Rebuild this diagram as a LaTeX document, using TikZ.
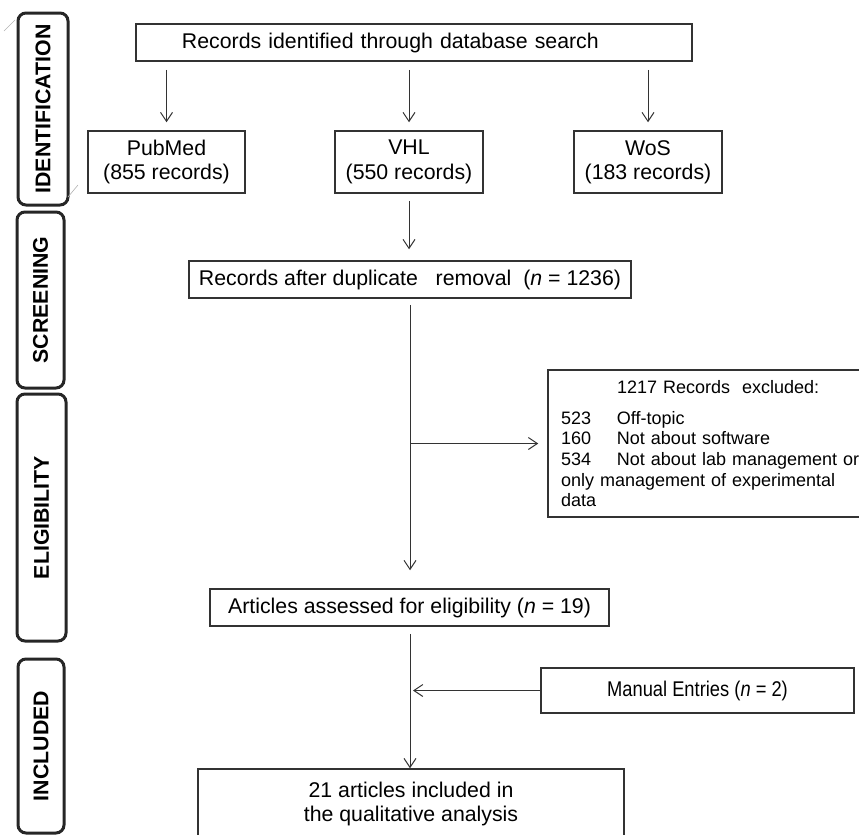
\documentclass[tikz,border=0pt]{standalone}
\usepackage{fontspec}
\setmainfont{Liberation Sans}
\newfontfamily\narrowfont{Liberation Sans}[FakeStretch=0.86]
\usepackage{tikz}
\usetikzlibrary{positioning,arrows.meta}
\definecolor{boxline}{HTML}{333333}

\begin{document}
\begin{tikzpicture}[x=0.5pt,y=-0.5pt,
font=\fontsize{10.65}{12.2}\selectfont,
box/.style={draw=boxline,line width=0.75pt,rectangle,inner sep=0pt,align=center},
phase/.style={draw=black!85,line width=1.5pt,rounded corners=4pt,rotate=90,inner sep=0pt,
    font=\fontsize{10.65}{12.2}\selectfont\bfseries},
flow/.style={draw=boxline,line width=0.5pt,->},
>={Straight Barb[length=4.5pt,width=6pt]}]
\useasboundingbox (0,0) rectangle (859,835);

\node (ident) [phase,minimum width=96pt,minimum height=25pt] at (43,109) {IDENTIFICATION};
\node (screen) [phase,minimum width=88pt,minimum height=23.5pt] at (40.5,300) {SCREENING};
\node (elig) [phase,minimum width=123.5pt,minimum height=24.5pt] at (41.5,517.5) {ELIGIBILITY};
\node (incl) [phase,minimum width=87pt,minimum height=23pt] at (41,746) {INCLUDED};
\draw [gray!60,line width=0.3pt] (4,31) -- (15,20) (68,197) -- (78,185);

\node (search) [box,minimum height=18.5pt,text width=232pt,inner xsep=23pt,align=left]
    at (414,42.5) {Records identified through database search};
\node (pubmed) [box,minimum width=78.5pt,minimum height=31pt] at (166.5,162) {PubMed\\(855 records)};
\node (vhl) [box,minimum width=74pt,minimum height=31pt] at (409,162) {VHL\\(550 records)};
\node (wos) [box,minimum width=74pt,minimum height=31pt] at (648,162) {WoS\\(183 records)};
\node (dedup) [box,minimum width=221pt,minimum height=18.5pt]
    at (410,279.5) {Records after duplicate\ \ \ removal\ \ (\textit{n} = 1236)};
\node (excl) [box,text width=152pt,inner xsep=6.5pt,minimum height=73.5pt,align=left,
    font=\fontsize{9}{10.35}\selectfont] at (713,443.5)
    {\hspace*{28pt}1217 Records\ \ excluded:\\[5.15pt]
    \makebox[28pt][l]{523}Off-topic\\
    \makebox[28pt][l]{160}Not about software\\
    \makebox[28pt][l]{534}Not about lab management or\\
    only management of experimental\\
    data};
\node (articles) [box,minimum width=199.5pt,minimum height=18.5pt]
    at (409.5,607.5) {Articles assessed for eligibility (\textit{n} = 19)};
\node (manual) [box,minimum width=156.5pt,minimum height=22.5pt,
    font=\narrowfont\fontsize{10.65}{12.2}\selectfont] at (697.5,690.5) {Manual Entries (\textit{n} = 2)};
\node (final) [box,minimum width=213pt,minimum height=35pt]
    at (411,804) {21 articles included in\\the qualitative analysis};

\foreach \db in {pubmed,vhl,wos}
    \draw [flow,shorten <=4pt,shorten >=4pt] (search.south -| \db.north) -- (\db.north);
\draw [flow,shorten <=3.5pt,shorten >=5.5pt] (vhl.south) -- (vhl.south |- dedup.north);
\draw [flow,shorten <=3pt,shorten >=9pt] (dedup.south) -- (dedup.south |- articles.north);
\coordinate (exclfork) at (dedup.south |- excl.west);
\draw [flow,shorten >=4.5pt] (exclfork) -- (excl.west);
\draw [flow,shorten <=3.5pt] (articles.south -| dedup.south) -- (dedup.south |- final.north);
\coordinate (manualjoin) at (dedup.south |- manual.west);
\draw [flow,shorten >=1.5pt] (manual.west) -- (manualjoin);
\end{tikzpicture}
\end{document}
